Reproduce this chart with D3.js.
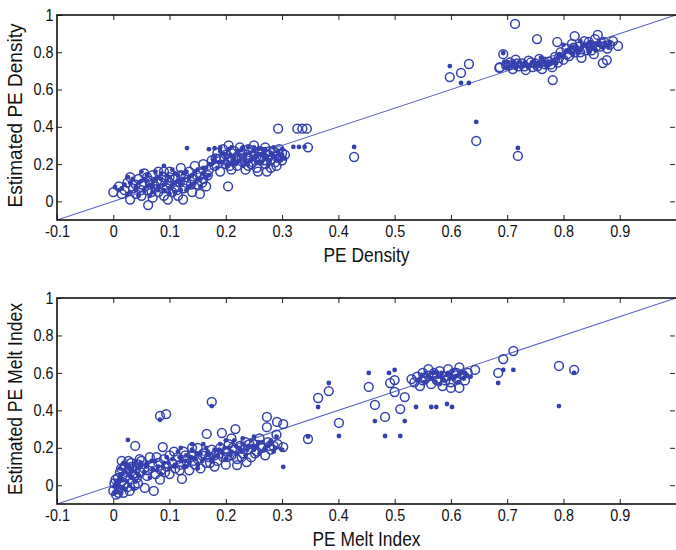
<!DOCTYPE html>
<html>
<head>
<meta charset="utf-8">
<script src="https://cdn.jsdelivr.net/npm/d3@7"></script>
<style>
  body { margin: 0; background: #fff; }
  svg text { font-family: 'Liberation Sans', Arial, sans-serif; fill: #111; }
</style>
</head>
<body>
<div id="chart"></div>
<script>
const width = 676
const height = 550
const markColor = '#3440ad'
const lineColor = '#5a62c8'

const xTicks = [-0.1, 0, 0.1, 0.2, 0.3, 0.4, 0.5, 0.6, 0.7, 0.8, 0.9]
const xTickLabels = ['-0.1', '0', '0.1', '0.2', '0.3', '0.4', '0.5', '0.6', '0.7', '0.8', '0.9']
const yTicks = [0, 0.2, 0.4, 0.6, 0.8, 1]
const yTickLabels = ['0', '0.2', '0.4', '0.6', '0.8', '1']
const diagonal = [-0.1, 1]

// PE density: open circles
const densityCircles = [
  [0.0,0.05],[0.01,0.08],[0.02,0.06],[0.025,0.1],[0.03,0.01],[0.035,0.07],[0.04,0.04],[0.045,0.12],[0.05,0.09],[0.05,0.03],
  [0.055,0.15],[0.06,0.06],[0.062,-0.02],[0.065,0.11],[0.07,0.02],[0.07,0.14],[0.075,0.08],[0.08,0.05],[0.08,0.16],[0.085,0.1],
  [0.09,0.03],[0.09,0.13],[0.095,0.07],[0.097,0.01],[0.1,0.1],[0.1,0.16],[0.105,0.05],[0.11,0.12],[0.11,0.08],[0.115,0.03],
  [0.12,0.14],[0.12,0.18],[0.124,0.01],[0.125,0.07],[0.13,0.1],[0.135,0.16],[0.14,0.05],[0.14,0.12],[0.145,0.19],[0.15,0.09],
  [0.154,0.04],[0.155,0.15],[0.16,0.12],[0.16,0.2],[0.165,0.08],[0.17,0.17],
  [0.015,0.04],[0.03,0.13],[0.04,0.09],[0.06,0.13],[0.068,0.05],[0.078,0.11],[0.088,0.07],[0.1,0.13],[0.113,0.06],[0.118,0.1],
  [0.128,0.13],[0.138,0.09],[0.148,0.14],[0.158,0.1],[0.168,0.14],[0.09,0.16],[0.05,0.06],
  [0.175,0.22],[0.18,0.19],[0.185,0.26],[0.19,0.16],[0.19,0.23],[0.195,0.28],[0.2,0.2],[0.2,0.25],[0.204,0.08],[0.205,0.3],
  [0.21,0.17],[0.21,0.22],[0.215,0.27],[0.22,0.24],[0.22,0.19],[0.225,0.29],[0.23,0.21],[0.23,0.26],[0.235,0.17],[0.24,0.23],
  [0.24,0.28],[0.245,0.2],[0.25,0.25],[0.25,0.3],[0.255,0.18],[0.257,0.16],[0.26,0.22],[0.26,0.27],[0.265,0.24],[0.27,0.2],
  [0.27,0.29],[0.273,0.16],[0.275,0.25],[0.28,0.22],[0.285,0.27],[0.29,0.19],[0.29,0.24],[0.295,0.28],[0.3,0.22],[0.3,0.26],
  [0.182,0.23],[0.197,0.24],[0.207,0.19],[0.217,0.23],[0.228,0.23],[0.238,0.25],[0.248,0.21],[0.258,0.24],[0.268,0.22],[0.278,0.27],
  [0.288,0.21],[0.21,0.26],[0.24,0.19],[0.28,0.18],
  [0.305,0.25],[0.293,0.39],[0.327,0.39],[0.336,0.39],[0.344,0.39],[0.346,0.29],
  [0.428,0.238],[0.598,0.667],[0.618,0.689],[0.632,0.737],[0.645,0.324],[0.719,0.244],[0.714,0.952],[0.753,0.871],[0.781,0.651],
  [0.686,0.716],[0.693,0.79],[0.698,0.73],[0.705,0.745],[0.71,0.71],[0.715,0.76],[0.72,0.725],[0.727,0.74],[0.733,0.705],[0.738,0.755],
  [0.745,0.72],[0.75,0.74],[0.757,0.765],[0.762,0.71],[0.768,0.735],[0.774,0.75],[0.78,0.72],[0.785,0.775],[0.79,0.745],[0.795,0.8],
  [0.8,0.76],[0.805,0.82],[0.81,0.78],[0.815,0.845],[0.82,0.887],[0.82,0.8],[0.826,0.83],[0.832,0.77],[0.837,0.86],[0.842,0.81],
  [0.848,0.84],[0.854,0.79],[0.856,0.87],[0.861,0.893],[0.866,0.83],[0.87,0.742],[0.872,0.855],[0.877,0.758],[0.882,0.84],[0.888,0.86],
  [0.897,0.834],[0.789,0.855],[0.687,0.72],
  [0.703,0.73],[0.717,0.74],[0.731,0.725],[0.742,0.745],[0.754,0.725],[0.766,0.75],[0.778,0.735],[0.792,0.77],[0.807,0.79],[0.818,0.825],
  [0.83,0.8],[0.845,0.855],[0.858,0.83],[0.868,0.85],[0.878,0.82],[0.85,0.81]
]

// PE density: dots
const densityDots = [
  [0.003,0.077],[0.026,0.13],[0.131,0.286],[0.32,0.292],[0.33,0.292],[0.34,0.292],[0.428,0.292],[0.598,0.726],[0.618,0.635],[0.632,0.635],
  [0.645,0.426],[0.719,0.287],[0.693,0.796],
  [0.01,0.06],[0.02,0.09],[0.03,0.05],[0.035,0.12],[0.04,0.08],[0.045,0.03],[0.05,0.11],[0.055,0.06],[0.06,0.14],[0.065,0.09],
  [0.07,0.05],[0.075,0.12],[0.08,0.08],[0.085,0.15],[0.09,0.06],[0.095,0.11],[0.1,0.13],[0.1,0.04],[0.105,0.09],[0.11,0.15],
  [0.115,0.11],[0.12,0.06],[0.125,0.12],[0.13,0.16],[0.135,0.08],[0.14,0.14],[0.145,0.1],[0.15,0.17],[0.155,0.12],[0.16,0.15],
  [0.165,0.18],[0.17,0.14],[0.09,0.19],[0.05,0.16],
  [0.015,0.07],[0.025,0.04],[0.03,0.1],[0.04,0.06],[0.045,0.1],[0.055,0.12],[0.06,0.08],[0.065,0.03],[0.07,0.11],[0.075,0.16],
  [0.08,0.06],[0.085,0.12],[0.09,0.09],[0.095,0.14],[0.1,0.07],[0.105,0.17],[0.11,0.05],[0.115,0.14],[0.12,0.09],[0.125,0.15],
  [0.13,0.06],[0.135,0.13],[0.14,0.09],[0.145,0.16],[0.15,0.12],[0.155,0.08],[0.16,0.18],[0.165,0.13],[0.17,0.2],[0.06,0.11],
  [0.07,0.08],[0.08,0.13],[0.11,0.1],[0.12,0.11],
  [0.175,0.2],[0.18,0.24],[0.185,0.18],[0.19,0.27],[0.195,0.21],[0.2,0.23],[0.205,0.28],[0.21,0.2],[0.215,0.24],[0.22,0.27],
  [0.225,0.22],[0.23,0.19],[0.235,0.25],[0.24,0.29],[0.245,0.22],[0.25,0.27],[0.255,0.21],[0.26,0.25],[0.265,0.28],[0.27,0.23],
  [0.275,0.19],[0.28,0.26],[0.285,0.29],[0.29,0.22],[0.295,0.25],[0.3,0.28],[0.305,0.23],[0.17,0.28],[0.18,0.285],[0.19,0.29],
  [0.178,0.22],[0.188,0.21],[0.198,0.25],[0.203,0.19],[0.208,0.25],[0.213,0.22],[0.218,0.2],[0.223,0.25],[0.228,0.28],[0.233,0.22],
  [0.238,0.2],[0.243,0.26],[0.248,0.23],[0.253,0.24],[0.258,0.28],[0.263,0.21],[0.268,0.26],[0.273,0.24],[0.278,0.22],[0.283,0.25],
  [0.288,0.24],[0.293,0.27],[0.298,0.22],[0.3,0.25],[0.21,0.29],[0.23,0.29],[0.25,0.29],[0.27,0.28],
  [0.695,0.75],[0.7,0.72],[0.708,0.735],[0.715,0.715],[0.722,0.75],[0.73,0.73],[0.737,0.72],[0.744,0.745],[0.75,0.725],[0.756,0.735],
  [0.763,0.75],[0.77,0.725],[0.777,0.74],[0.784,0.76],[0.79,0.77],[0.797,0.78],[0.803,0.8],[0.81,0.815],[0.817,0.79],[0.823,0.83],
  [0.83,0.81],[0.836,0.845],[0.843,0.82],[0.85,0.835],[0.857,0.81],[0.864,0.85],[0.87,0.825],[0.876,0.84],[0.883,0.85],[0.8,0.84],
  [0.83,0.86],[0.76,0.77],
  [0.7,0.745],[0.705,0.725],[0.712,0.75],[0.718,0.73],[0.725,0.72],[0.732,0.745],[0.74,0.73],[0.747,0.75],[0.753,0.74],[0.76,0.725],
  [0.767,0.745],[0.773,0.735],[0.78,0.75],[0.787,0.74],[0.793,0.79],[0.8,0.775],[0.806,0.81],[0.812,0.8],[0.82,0.815],[0.826,0.8],
  [0.833,0.83],[0.84,0.835],[0.846,0.85],[0.853,0.82],[0.86,0.84],[0.866,0.835],[0.873,0.85],[0.88,0.83],[0.815,0.83],[0.845,0.8]
]

// PE melt index: open circles
const meltCircles = [
  [0.0,-0.03],[0.002,0.01],[0.005,-0.05],[0.008,0.04],[0.01,-0.02],[0.012,0.07],[0.015,0.02],[0.018,-0.04],[0.02,0.1],[0.022,0.05],
  [0.025,-0.01],[0.028,0.08],[0.03,0.03],[0.032,0.12],[0.035,0.06],[0.038,0.0],[0.04,0.09],[0.039,0.21],[0.042,0.04],[0.045,0.11],
  [0.048,0.07],[0.05,0.13],[0.056,-0.014],[0.072,-0.03],
  [0.004,0.03],[0.009,-0.04],[0.014,0.09],[0.019,0.0],[0.024,0.07],[0.029,-0.03],[0.034,0.1],[0.038,0.05],[0.044,0.01],[0.047,0.14],
  [0.015,0.13],[0.027,0.13],
  [0.055,0.09],[0.06,0.05],[0.065,0.15],[0.07,0.1],[0.075,0.06],[0.08,0.12],[0.083,0.03],[0.085,0.08],[0.088,0.204],[0.09,0.14],
  [0.095,0.1],[0.1,0.06],[0.1,0.16],[0.105,0.12],[0.11,0.09],[0.115,0.15],[0.12,0.11],[0.122,0.034],[0.125,0.18],[0.13,0.13],
  [0.135,0.08],[0.14,0.16],[0.145,0.11],[0.15,0.2],[0.15,0.14],[0.155,0.09],[0.16,0.17],[0.166,0.274],[0.165,0.12],[0.17,0.15],
  [0.175,0.19],[0.18,0.1],[0.18,0.16],[0.185,0.13],[0.19,0.2],[0.193,0.279],[0.195,0.15],[0.2,0.18],[0.2,0.11],[0.205,0.22],
  [0.21,0.16],[0.215,0.19],[0.217,0.3],[0.22,0.108],[0.22,0.14],[0.225,0.21],[0.23,0.17],[0.235,0.23],[0.237,0.124],[0.24,0.19],
  [0.245,0.15],[0.25,0.22],[0.255,0.18],[0.26,0.25],[0.265,0.2],[0.27,0.16],[0.273,0.365],[0.273,0.31],[0.275,0.23],[0.28,0.19],
  [0.285,0.21],[0.29,0.27],[0.291,0.338],[0.302,0.327],[0.302,0.204],[0.083,0.37],[0.094,0.38],[0.175,0.445],
  [0.062,0.08],[0.077,0.15],[0.092,0.07],[0.108,0.18],[0.118,0.08],[0.128,0.16],[0.142,0.13],[0.158,0.16],[0.172,0.12],[0.188,0.17],
  [0.202,0.15],[0.212,0.2],[0.228,0.15],[0.242,0.22],[0.252,0.17],[0.262,0.21],[0.278,0.21],[0.292,0.22],[0.14,0.2],[0.21,0.25],
  [0.346,0.247],[0.364,0.466],[0.383,0.503],[0.401,0.333],[0.454,0.525],[0.465,0.429],[0.483,0.365],[0.51,0.407],[0.518,0.471],[0.492,0.546],
  [0.5,0.562],[0.5,0.498],[0.53,0.567],
  [0.535,0.55],[0.54,0.58],[0.545,0.53],[0.55,0.6],[0.555,0.57],[0.56,0.62],[0.565,0.54],[0.57,0.59],[0.575,0.56],[0.58,0.61],
  [0.585,0.53],[0.59,0.58],[0.595,0.62],[0.6,0.55],[0.605,0.6],[0.61,0.57],[0.615,0.63],[0.615,0.52],[0.62,0.59],[0.625,0.56],
  [0.63,0.6],[0.55,0.56],[0.57,0.6],[0.59,0.56],[0.61,0.6],[0.6,0.52],[0.56,0.585],
  [0.643,0.616],[0.684,0.6],[0.693,0.674],[0.711,0.717],[0.792,0.637],[0.819,0.616]
]

// PE melt index: dots
const meltDots = [
  [0.003,0.0],[0.006,-0.03],[0.01,0.03],[0.014,0.06],[0.017,-0.01],[0.02,0.08],[0.024,0.02],[0.026,0.242],[0.027,0.11],[0.03,0.05],
  [0.033,0.09],[0.036,-0.02],[0.04,0.13],[0.044,0.06],[0.047,0.1],
  [0.002,-0.04],[0.005,0.02],[0.008,-0.01],[0.011,0.05],[0.013,-0.04],[0.016,0.03],[0.019,0.07],[0.021,-0.02],[0.023,0.1],[0.026,0.06],
  [0.029,0.0],[0.031,0.08],[0.034,0.04],[0.037,0.11],[0.04,0.02],[0.043,0.09],[0.046,0.05],[0.049,0.12],[0.012,0.09],[0.018,0.12],
  [0.055,0.07],[0.06,0.12],[0.065,0.04],[0.07,0.09],[0.075,0.13],[0.08,0.1],[0.083,0.35],[0.085,0.06],[0.09,0.12],[0.095,0.15],
  [0.1,0.09],[0.105,0.14],[0.11,0.11],[0.115,0.18],[0.12,0.13],[0.125,0.1],[0.13,0.16],[0.135,0.12],[0.14,0.19],[0.145,0.14],
  [0.15,0.11],[0.155,0.17],[0.16,0.14],[0.165,0.2],[0.17,0.16],[0.175,0.423],[0.175,0.13],[0.18,0.19],[0.185,0.16],[0.19,0.22],
  [0.195,0.17],[0.2,0.14],[0.205,0.2],[0.21,0.18],[0.215,0.24],[0.22,0.17],[0.225,0.2],[0.23,0.22],[0.235,0.16],[0.24,0.21],
  [0.245,0.24],[0.25,0.19],[0.255,0.21],[0.26,0.17],[0.265,0.23],[0.27,0.2],[0.275,0.21],[0.28,0.24],[0.285,0.18],[0.29,0.26],
  [0.058,0.1],[0.068,0.13],[0.078,0.08],[0.088,0.1],[0.098,0.12],[0.108,0.1],[0.118,0.15],[0.128,0.13],[0.138,0.15],[0.148,0.17],
  [0.158,0.13],[0.168,0.18],[0.178,0.15],[0.188,0.19],[0.198,0.2],[0.208,0.16],[0.218,0.21],[0.228,0.18],[0.238,0.19],[0.248,0.21],
  [0.258,0.23],[0.268,0.19],[0.278,0.22],[0.288,0.2],[0.12,0.2],[0.14,0.22],[0.16,0.22],[0.2,0.24],[0.23,0.25],[0.25,0.26],
  [0.13,0.1],[0.15,0.09],
  [0.3,0.19],[0.302,0.098],[0.346,0.26],[0.364,0.418],[0.383,0.546],[0.401,0.263],
  [0.454,0.6],[0.465,0.343],[0.483,0.263],[0.49,0.6],[0.5,0.616],[0.51,0.263],[0.518,0.343],[0.538,0.418],[0.565,0.418],[0.574,0.418],
  [0.593,0.434],[0.602,0.418],
  [0.54,0.56],[0.548,0.59],[0.553,0.55],[0.56,0.58],[0.568,0.6],[0.573,0.55],[0.578,0.58],[0.583,0.6],[0.588,0.56],[0.593,0.59],
  [0.598,0.57],[0.603,0.61],[0.608,0.58],[0.613,0.55],[0.618,0.6],[0.623,0.57],[0.628,0.59],[0.635,0.58],
  [0.545,0.57],[0.555,0.6],[0.565,0.57],[0.575,0.6],[0.585,0.575],[0.595,0.6],[0.605,0.57],[0.615,0.59],[0.625,0.6],[0.58,0.54],
  [0.6,0.59],
  [0.684,0.546],[0.693,0.616],[0.711,0.616],[0.792,0.423],[0.819,0.6]
]

const svg = d3.select('#chart')
  .append('svg')
    .attr('width', width)
    .attr('height', height)

const drawPanel = (top, bottom, circles, dots, xTitle, yTitle, titleLengths, id) => {
  const x = d3.scaleLinear().domain([-0.1, 1]).range([57, 676])
  const y = d3.scaleLinear().domain([-0.1, 1]).range([bottom, top])
  const g = svg.append('g')

  g.append('clipPath')
    .attr('id', id)
    .append('rect')
      .attr('x', 57)
      .attr('y', top)
      .attr('width', 676 - 57)
      .attr('height', bottom - top)

  const plot = g.append('g').attr('clip-path', `url(#${id})`)

  // y = x reference line
  plot.append('path')
    .datum(diagonal)
    .attr('fill', 'none')
    .attr('stroke', lineColor)
    .attr('stroke-width', 1.1)
    .attr('d', d3.line().x(d => x(d)).y(d => y(d)))

  plot.append('g')
    .selectAll('circle')
    .data(circles)
    .enter().append('circle')
      .attr('cx', d => x(d[0]))
      .attr('cy', d => y(d[1]))
      .attr('r', 4.4)
      .attr('fill', 'none')
      .attr('stroke', markColor)
      .attr('stroke-width', 1.5)

  plot.append('g')
    .selectAll('circle')
    .data(dots)
    .enter().append('circle')
      .attr('cx', d => x(d[0]))
      .attr('cy', d => y(d[1]))
      .attr('r', 2.4)
      .attr('fill', markColor)

  // axes, ticks pointing inward
  const fmtX = (d, i) => xTickLabels[i]
  const fmtY = (d, i) => yTickLabels[i]
  const styleAxis = a => a
    .call(a => a.select('.domain').remove())
    .call(a => a.selectAll('line').attr('stroke', '#222'))
    .call(a => a.selectAll('text')
      .attr('font-size', 16)
      .attr('font-family', null)
      .attr('transform', 'scale(0.9,1)'))

  g.append('g')
    .attr('transform', `translate(0,${bottom})`)
    .call(d3.axisBottom(x).tickValues(xTicks).tickFormat(fmtX).tickSizeInner(-5).tickSizeOuter(0).tickPadding(6))
    .call(styleAxis)
  g.append('g')
    .attr('transform', `translate(0,${top})`)
    .call(d3.axisTop(x).tickValues(xTicks.slice(1)).tickFormat('').tickSizeInner(-5).tickSizeOuter(0))
    .call(styleAxis)
  g.append('g')
    .attr('transform', 'translate(57,0)')
    .call(d3.axisLeft(y).tickValues(yTicks).tickFormat(fmtY).tickSizeInner(-5).tickSizeOuter(0).tickPadding(4))
    .call(styleAxis)
  g.append('g')
    .attr('transform', 'translate(675,0)')
    .call(d3.axisRight(y).tickValues(yTicks.slice(0, -1)).tickFormat('').tickSizeInner(-5).tickSizeOuter(0))
    .call(styleAxis)

  // frame
  g.append('rect')
    .attr('x', 57)
    .attr('y', top)
    .attr('width', 676 - 57 + 2)
    .attr('height', bottom - top)
    .attr('fill', 'none')
    .attr('stroke', '#111')
    .attr('stroke-width', 1.6)

  g.append('text')
    .attr('x', (57 + 676) / 2)
    .attr('y', bottom + 42)
    .attr('text-anchor', 'middle')
    .attr('font-size', 20)
    .attr('textLength', titleLengths[0])
    .attr('lengthAdjust', 'spacingAndGlyphs')
    .text(xTitle)

  g.append('text')
    .attr('transform', `translate(22,${(top + bottom) / 2 - 2}) rotate(-90)`)
    .attr('text-anchor', 'middle')
    .attr('font-size', 20)
    .attr('textLength', titleLengths[1])
    .attr('lengthAdjust', 'spacingAndGlyphs')
    .text(yTitle)
}

drawPanel(15, 220, densityCircles, densityDots, 'PE Density', 'Estimated PE Density', [86, 184], 'clip-density')
drawPanel(298, 504, meltCircles, meltDots, 'PE Melt Index', 'Estimated PE Melt Index', [108, 192], 'clip-melt')
</script>
</body>
</html>
